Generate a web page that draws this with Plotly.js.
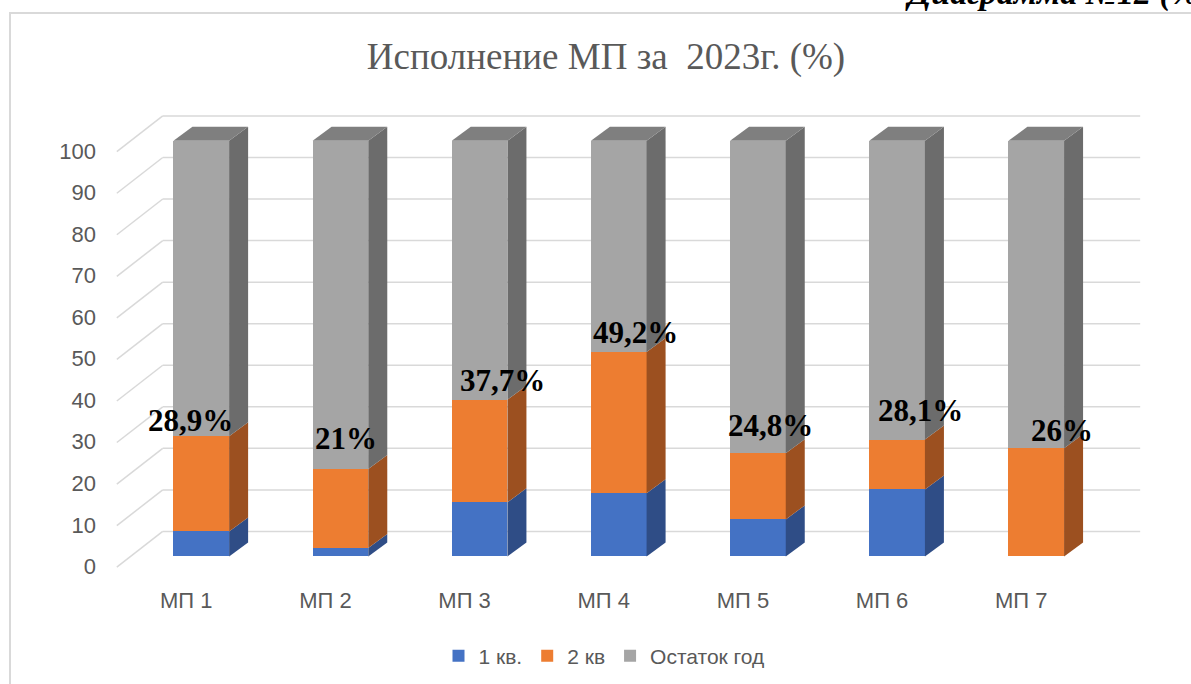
<!DOCTYPE html>
<html>
<head>
<meta charset="utf-8">
<script src="https://cdn.plot.ly/plotly-3.0.1.min.js"></script>
<style>
  html, body { margin: 0; padding: 0; background: #fff; }
  #frame { position: absolute; left: 9px; top: 12px; width: 1300px; height: 800px;
           border-left: 2px solid #d9d9d9; border-top: 2px solid #d9d9d9; }
  #chart { position: absolute; left: 0; top: 0; width: 1191px; height: 684px; }
</style>
</head>
<body>
<div id="frame"></div>
<div id="chart"></div>
<script>
// ---- data ----
const categories = ['МП 1', 'МП 2', 'МП 3', 'МП 4', 'МП 5', 'МП 6', 'МП 7'];
const q1      = [6.0, 2.0, 13.0, 15.2, 8.9, 16.1, 0];
const q2      = [22.9, 19.0, 24.7, 34.0, 15.9, 12.0, 26.0];
const rest    = [71.1, 79.0, 62.3, 50.8, 75.2, 71.9, 74.0];
const totals  = [28.9, 21, 37.7, 49.2, 24.8, 28.1, 26];
const labels  = ['28,9%', '21%', '37,7%', '49,2%', '24,8%', '28,1%', '26%'];
const seriesNames = ['1 кв.', '2 кв', 'Остаток год'];
const yTicks = [0, 10, 20, 30, 40, 50, 60, 70, 80, 90, 100];

// ---- style ----
const frontColors = ['#4472C4', '#ED7D31', '#A5A5A5'];
const sideColors  = ['#2F4D86', '#9C5020', '#6C6C6C'];
const topColor    = '#7F7F7F';
const gridColor   = '#d9d9d9';
const barW = 0.4, dx = 0.1365, dy = 3.37;    // depth offsets of the 3D look
const gridBack = 6.0, gridFront = -2.6, xFront = -0.607, xBack = -0.277, xEnd = 6.747;
const labelShift = [[-11, 16], [6, 31], [23, 19], [17, 19], [13, 28], [23, 29], [26, 18]];

const xs = categories.map((_, i) => i);
const series = [q1, q2, rest];

const traces = series.map((vals, k) => ({
  type: 'bar', x: xs, y: vals, name: seriesNames[k], width: barW,
  marker: { color: frontColors[k], line: { width: 0 } },
  hoverinfo: 'skip'
}));

const shapes = [];
// back-wall grid + floor/side diagonals
yTicks.forEach(v => {
  shapes.push({ type: 'line', xref: 'x', yref: 'y', x0: xFront, y0: v + gridFront, x1: xBack, y1: v + gridBack,
                line: { color: gridColor, width: 1.5 }, layer: 'below' });
  shapes.push({ type: 'line', xref: 'x', yref: 'y', x0: xBack, y0: v + gridBack, x1: xEnd, y1: v + gridBack,
                line: { color: gridColor, width: 1.5 }, layer: 'below' });
});
// side and top faces of each bar, computed from the stacked values
xs.forEach(i => {
  let base = 0;
  const xr = i + barW / 2, xl = i - barW / 2;
  series.forEach((vals, k) => {
    const top = base + vals[i];
    if (vals[i] > 0) {
      shapes.push({ type: 'path', xref: 'x', yref: 'y',
        path: `M ${xr},${base} L ${xr + dx},${base + dy} L ${xr + dx},${top + dy} L ${xr},${top} Z`,
        fillcolor: sideColors[k], line: { width: 0 }, layer: 'above' });
    }
    base = top;
  });
  shapes.push({ type: 'path', xref: 'x', yref: 'y',
    path: `M ${xl},${base} L ${xl + dx},${base + dy} L ${xr + dx},${base + dy} L ${xr},${base} Z`,
    fillcolor: topColor, line: { width: 0 }, layer: 'above' });
});

const annotations = xs.map(i => ({
  x: i, y: totals[i], xref: 'x', yref: 'y', text: labels[i], showarrow: false,
  xanchor: 'center', yanchor: 'middle', xshift: labelShift[i][0], yshift: labelShift[i][1],
  font: { family: 'Liberation Serif, Times New Roman, serif', size: 31, color: '#000', weight: 'bold' }
}));
annotations.push({
  xref: 'paper', yref: 'paper', x: (903 - 115) / 1027, y: 1 + (91 - 14) / 482,
  xanchor: 'left', yanchor: 'bottom', showarrow: false,
  text: '<b><i>Диаграмма №12 (%)</i></b>',
  font: { family: 'Liberation Serif, Times New Roman, serif', size: 34, color: '#000' }
});

const layout = {
  width: 1191, height: 684,
  paper_bgcolor: 'rgba(0,0,0,0)', plot_bgcolor: 'rgba(0,0,0,0)',
  margin: { l: 115, r: 49, t: 91, b: 111, autoexpand: false },
  barmode: 'stack',
  showlegend: true,
  title: { text: 'Исполнение МП за  2023г. (%)', x: (606 - 115) / 1027, xref: 'paper',
           y: 1 - 56 / 684, yanchor: 'middle', xanchor: 'center',
           font: { family: 'Liberation Serif, Times New Roman, serif', size: 37, color: '#595959' } },
  xaxis: { type: 'linear', range: [-0.62, 6.76], tickvals: xs, ticktext: categories,
           showgrid: false, zeroline: false, showline: false, ticks: '',
           ticklabelshift: -15, ticklabelstandoff: 12,
           tickfont: { family: 'Liberation Sans, Arial, sans-serif', size: 22, color: '#595959' } },
  yaxis: { range: [-4, 112], tickvals: yTicks, showgrid: false, zeroline: false, showline: false,
           ticks: '', ticklabelshift: 10, ticklabelstandoff: 18,
           tickfont: { family: 'Liberation Sans, Arial, sans-serif', size: 22, color: '#595959' } },
  legend: { orientation: 'h', x: (604 - 115) / 1027, xanchor: 'center', y: (573 - 656) / 482, yanchor: 'middle',
            font: { family: 'Liberation Sans, Arial, sans-serif', size: 21, color: '#595959' },
            traceorder: 'normal', itemclick: false, itemwidth: 30 },
  shapes: shapes,
  annotations: annotations
};

Plotly.newPlot('chart', traces, layout, { staticPlot: true });
</script>
</body>
</html>
